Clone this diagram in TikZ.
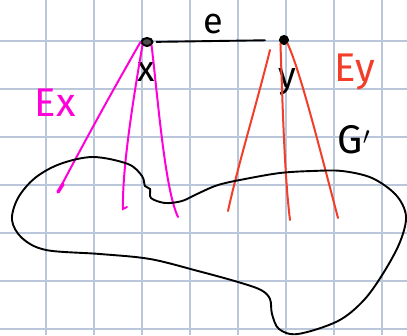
\documentclass[tikz,border=0pt]{standalone}
\usepackage{fontspec}
\setsansfont{Fira Sans}
\definecolor{mymagenta}{rgb}{1.0,0.0,0.85}
\definecolor{myred}{rgb}{0.95,0.24,0.16}
\definecolor{mygrid}{rgb}{0.73,0.78,0.86}
\usetikzlibrary{shapes.geometric, positioning}
\tikzset{
    gridline/.style={mygrid, line width=1.3pt},
    vertex/.style={
           ellipse,
           draw=black, fill=black!70,
           line width=2pt,
           minimum width=11pt, minimum height=8pt,
           inner sep=0pt,
           },
    hand/.style={font=\sffamily\fontsize{40}{40}\selectfont, inner sep=0pt},
    small hand/.style={font=\sffamily\fontsize{36}{36}\selectfont, inner sep=0pt},
    edgeline/.style={black, line width=1.9pt, line cap=round},
    xline/.style={mymagenta, line width=2pt, line cap=round},
    yline/.style={myred, line width=2pt, line cap=round},
}

\begin{document}
\begin{tikzpicture}[x=1pt, y=-1pt]
      \useasboundingbox (0,0) rectangle (407,335);
      \fill[white] (0,0) rectangle (407,335);
      % grid paper
      \foreach \gx in {46,94,...,382}
          \draw[gridline] (\gx,0) -- (\gx,335);
      \foreach \gy in {41,89,...,329}
          \draw[gridline] (0,\gy) -- (407,\gy);
      % the two end points of e
      \node[vertex]                (x) at (147, 42) {};
      \node[vertex, minimum width=8pt, minimum height=8pt, fill=black] (y) at (284, 40) {};
      \node[small hand]            (xlab) at (146, 72) {x};
      \node[small hand]            (ylab) at (287, 82) {y};
      \node[small hand]            (elab) at (213, 24) {e};
      \node[hand, mymagenta]       (Ex)   at (55, 103) {Ex};
      \node[hand, myred]           (Ey)   at (355, 72) {Ey};
      \node[hand]                  (G)    at (354, 140) {G$'$};
      \draw[edgeline, shorten >=14pt, shorten <=3pt] (x) -- (y);
      % ends of the edges into G'
      \coordinate (x1) at (58, 192);
      \coordinate (x2) at (123, 209);
      \coordinate (x3) at (178, 217);
      \coordinate (y1) at (228, 211);
      \coordinate (y2) at (290, 220);
      \coordinate (y3) at (338, 218);
      \draw[xline] (x.west) .. controls (110, 95) and (80, 150) .. (x1);
      \draw[xline, line width=3.5pt] (x1) -- ++(5,-8);
      \draw[xline] (x.south west) .. controls (133, 100) and (122, 170) .. (x2) -- ++(4,-2);
      \draw[xline] (x.south east) .. controls (158, 100) and (165, 190) .. (x3);
      \draw[yline] (270, 50) .. controls (255, 110) and (238, 165) .. (y1);
      \draw[yline] (y.south west) .. controls (283, 120) and (285, 180) .. (y2);
      \draw[yline] (y.south east) .. controls (300, 70) and (320, 150) .. (y3);
      % the rest of the graph
      \draw[edgeline] plot[smooth cycle, tension=0.55] coordinates {
          (93,157) (128,164) (142,176) (145,186) (150,189) (151,198)
          (165,203) (182,201) (197,194) (218,185) (245,179) (280,173)
          (312,171) (342,171) (372,178) (396,195) (406,216) (400,242)
          (384,272) (364,300) (338,321) (298,334) (279,329) (272,314)
          (270,299) (261,290) (238,282) (198,271) (150,259) (100,254)
          (46,250) (22,238) (12,220) (18,198) (35,178) (60,164)};
\end{tikzpicture}
\end{document}
